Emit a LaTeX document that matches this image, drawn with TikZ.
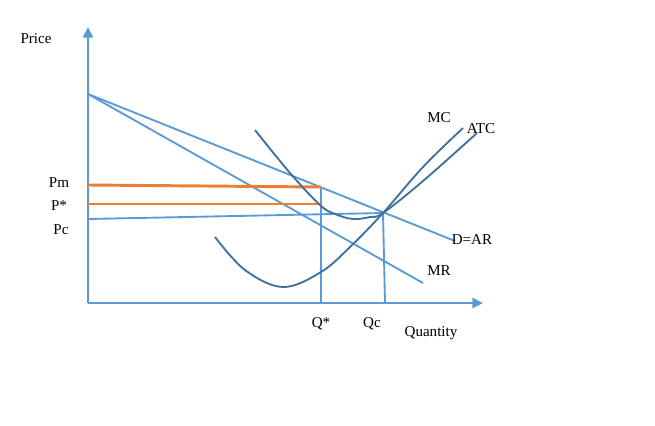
\documentclass[tikz,border=0pt]{standalone}
\usepackage{fontspec}
\setmainfont{Liberation Serif}
\usepackage{tikz}
\usetikzlibrary{arrows.meta}
\definecolor{axisblue}{HTML}{5B9BD5}
\definecolor{curveblue}{HTML}{41719C}
\definecolor{priceorange}{HTML}{ED7D31}

\begin{document}
\begin{tikzpicture}[x=0.75pt,y=-0.75pt,
    axis/.style={draw=axisblue,line width=2.2pt,-{Triangle[width=7.5pt,length=8pt]}},
    demand/.style={draw=axisblue,line width=1.4pt},
    cost/.style={draw=curveblue,line width=1.4pt},
    price/.style={draw=priceorange,line width=2.2pt},
    lbl/.style={font=\fontsize{11.3}{13}\selectfont,inner sep=0pt}]
    \useasboundingbox (0,0) rectangle (655,425);
    % axes
    \coordinate (O) at (88,303);
    \coordinate (ytop) at (88,27);
    \coordinate (xend) at (483,303);
    \draw[axis] (O) -- (ytop);
    \draw[axis] (O) -- (xend);
    % demand and marginal revenue
    \coordinate (A) at (88,94);
    \coordinate (dend) at (455,241);
    \coordinate (mrend) at (423,283);
    \draw[demand] (A) -- (dend);
    \draw[demand] (A) -- (mrend);
    % prices and quantities
    \coordinate (pm) at (88,185);
    \coordinate (qm) at (321,187);
    \coordinate (ps) at (88,204);
    \coordinate (qs) at (321,204);
    \coordinate (pc) at (88,219);
    \coordinate (E) at (383,213);
    \coordinate (qmbase) at (321,303);
    \coordinate (qcbase) at (385,303);
    \draw[demand] (pc) -- (E);
    \draw[demand] (qm) -- (qmbase);
    \draw[demand] (E) -- (qcbase);
    \draw[price] (pm) -- (qm);
    \draw[price] (ps) -- (qs);
    % cost curves
    \draw[cost] plot[smooth,tension=0.6] coordinates {
     (215,237) (245,270) (283,287) (321,272) (350,247)
     (383,213) (423,167) (463,128)};
    \draw[cost] plot[smooth,tension=0.6] coordinates {
     (255,130) (290,173) (320,205) (335,214) (353,219)
     (370,217) (383,213) (423,181) (477,133)};
    % labels
    \foreach \name/\pos/\txt in {
     price/{36,39}/Price, lpm/{59,183}/Pm, lps/{59,206}/P*,
     lpc/{61,230}/Pc, lqs/{321,324}/Q*, lqc/{372,324}/Qc,
     quantity/{431,333}/Quantity, mc/{439,118}/MC,
     atc/{481,129}/ATC, dar/{472,240}/D=AR, mr/{439,271}/MR
     } {
      \node[lbl] (\name) at (\pos) {\txt};
     }
\end{tikzpicture}
\end{document}
